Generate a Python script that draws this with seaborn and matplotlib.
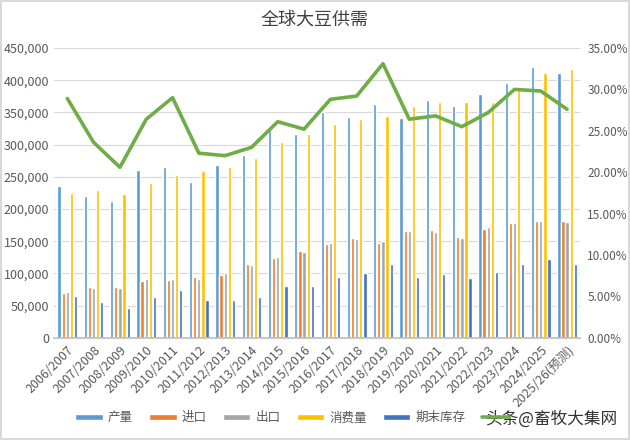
import numpy as np
import pandas as pd
import matplotlib.pyplot as plt
import seaborn as sns
from matplotlib.ticker import FuncFormatter, MultipleLocator

sns.set_theme(style="white")
plt.rcParams["font.family"] = ["Noto Sans CJK SC", "DejaVu Sans"]

# data
seasons = ["2006/2007", "2007/2008", "2008/2009", "2009/2010", "2010/2011",
           "2011/2012", "2012/2013", "2013/2014", "2014/2015", "2015/2016",
           "2016/2017", "2017/2018", "2018/2019", "2019/2020", "2020/2021",
           "2021/2022", "2022/2023", "2023/2024", "2024/2025", "2025/26(预测)"]
production = [236000, 220000, 212000, 261000, 265000, 242000, 268000, 284000, 323000, 317000,
              351000, 343000, 363000, 342000, 370000, 360000, 379000, 396000, 421000, 411000]
imports = [70000, 79000, 79000, 88000, 90000, 95000, 97000, 114000, 124000, 135000,
           146000, 155000, 147000, 166000, 167000, 157000, 169000, 179000, 181000, 181000]
exports = [71000, 78000, 77000, 92000, 91000, 92000, 100000, 113000, 126000, 133000,
           148000, 154000, 150000, 166000, 165000, 155000, 172000, 178000, 182000, 180000]
consumption = [225000, 230000, 224000, 241000, 253000, 259000, 266000, 280000, 304000, 317000,
               332000, 340000, 345000, 360000, 366000, 366000, 366000, 385000, 411000, 418000]
stocks = [65000, 55000, 46000, 64000, 74000, 59000, 59000, 64000, 80000, 80000,
          95000, 101000, 114000, 95000, 99000, 93000, 102000, 115000, 122000, 115000]
stock_ratio = [28.9, 23.6, 20.6, 26.4, 29.0, 22.3, 22.0, 23.0, 26.1, 25.2,
               28.8, 29.2, 33.1, 26.4, 26.8, 25.5, 27.2, 30.0, 29.8, 27.6]

items = ["产量", "进口", "出口", "消费量", "期末库存"]
colors = ["#5B9BD5", "#ED7D31", "#A5A5A5", "#FFC000", "#4472C4"]

df = pd.DataFrame({"年度": seasons, "产量": production, "进口": imports,
                   "出口": exports, "消费量": consumption, "期末库存": stocks})
long_df = df.melt(id_vars="年度", var_name="项目", value_name="数量")

fig = plt.figure(figsize=(6.3, 4.4), dpi=100, edgecolor="#D9D9D9", linewidth=1.5)
ax = fig.add_axes([0.086, 0.232, 0.835, 0.659])

sns.barplot(data=long_df, x="年度", y="数量", hue="项目", hue_order=items,
            palette=colors, saturation=1, width=0.78, gap=0.2, ax=ax)

ax2 = ax.twinx()
sns.lineplot(x=np.arange(len(seasons)), y=stock_ratio, ax=ax2,
             color="#70AD47", linewidth=2.6, label=" ")

ax.set_xlim(-0.5, len(seasons) - 0.5)
ax.set_ylim(0, 450000)
ax.yaxis.set_major_locator(MultipleLocator(50000))
ax.yaxis.set_major_formatter(FuncFormatter(lambda v, p: f"{int(v):,}"))
ax2.set_ylim(0, 35)
ax2.yaxis.set_major_locator(MultipleLocator(5))
ax2.yaxis.set_major_formatter(FuncFormatter(lambda v, p: f"{v:.2f}%"))

ax.grid(axis="y", color="#D9D9D9", linewidth=0.8)
ax.set_axisbelow(True)
ax.set_xlabel("")
ax.set_ylabel("")
ax2.set_ylabel("")

for s in ["top", "left", "right"]:
    ax.spines[s].set_visible(False)
ax.spines["bottom"].set_color("#BFBFBF")
for s in ax2.spines.values():
    s.set_visible(False)

ax.set_xticks(range(len(seasons)))
ax.set_xticklabels(seasons, rotation=45, ha="right", rotation_mode="anchor")
ax.tick_params(axis="x", length=0, labelsize=9, colors="#595959", pad=4)
ax.tick_params(axis="y", length=0, labelsize=9, colors="#595959")
ax2.tick_params(axis="y", length=0, labelsize=8.5, colors="#595959", pad=5)

# legend at the bottom
h1, l1 = ax.get_legend_handles_labels()
h2, l2 = ax2.get_legend_handles_labels()
ax.get_legend().remove()
ax2.get_legend().remove()
fig.legend(h1 + h2, l1 + l2, loc="lower center", ncol=6, frameon=False,
           bbox_to_anchor=(0.47, 0.01), fontsize=9, handlelength=2.2,
           handleheight=0.45, handletextpad=0.4, columnspacing=1.3,
           labelcolor="#595959")

fig.text(0.5, 0.955, "全球大豆供需", ha="center", va="center",
         fontsize=13, color="#404040")
fig.text(0.875, 0.048, "头条@畜牧大集网", ha="center", va="center",
         fontsize=12, color="#333333")

fig.savefig("out.png", dpi=100)
